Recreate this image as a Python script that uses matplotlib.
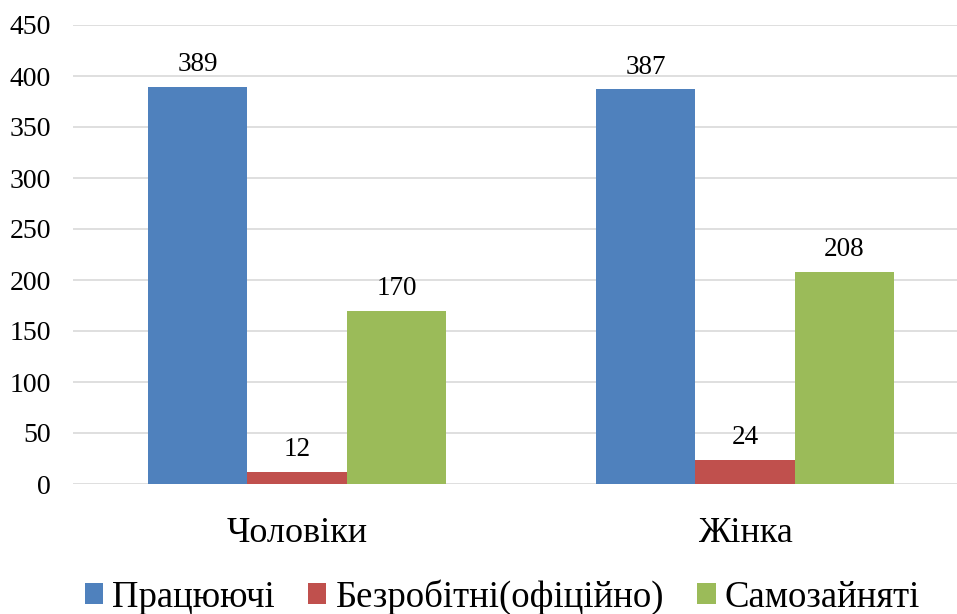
import matplotlib
matplotlib.use("Agg")
import matplotlib.pyplot as plt
import numpy as np

categories = ["Чоловіки", "Жінка"]
series_names = ["Працюючі", "Безробітні(офіційно)", "Самозайняті"]
values = [
    [389, 387],
    [12, 24],
    [170, 208],
]
colors = ["#4f81bd", "#c0504d", "#9bbb59"]
yticks = [0, 50, 100, 150, 200, 250, 300, 350, 400, 450]

plt.rcParams['font.family'] = ['Liberation Serif', 'DejaVu Serif']

W, H = 957, 614
fig = plt.figure(figsize=(W / 100, H / 100), dpi=100)
left_px, right_px, bottom_px, top_px = 73, 957, 484, 25
ax = fig.add_axes([left_px / W, (H - bottom_px) / H, (right_px - left_px) / W, (bottom_px - top_px) / H])

full_span = 896.0  # axis extends beyond the right edge
ax.set_xlim(-0.5, -0.5 + (right_px - left_px) / (full_span / 2))
ax.set_ylim(0, 450)

x = np.arange(len(categories))
bw = 0.222
handles = []
for i, (name, vals, c) in enumerate(zip(series_names, values, colors)):
    pos = x + (i - 1) * bw
    b = ax.bar(pos, vals, width=bw, color=c, label=name, zorder=3)
    handles.append(b)
    for p, v in zip(pos, vals):
        ax.annotate(str(v), (p, v), xytext=(0, 7), textcoords="offset points",
                    ha="center", va="bottom", fontsize=19.5)

ax.set_yticks(yticks)
ax.set_yticklabels([str(t) for t in yticks], fontsize=20)
ax.set_xticks(x)
ax.set_xticklabels(categories, fontsize=26)
ax.tick_params(axis="y", length=0, pad=16)
ax.tick_params(axis="x", length=0, pad=24)
ax.grid(axis="y", color="#d9d9d9", linewidth=1.2, zorder=0)
for s in ax.spines.values():
    s.set_visible(False)

fig.legend(handles=handles, labels=series_names, loc="center",
           bbox_to_anchor=(0.525, 1 - 597 / H), ncol=3, frameon=False,
           fontsize=26.5, handlelength=0.5, handleheight=0.5,
           handletextpad=0.25, columnspacing=0.9, borderaxespad=0)

fig.savefig("out.png", dpi=100)
